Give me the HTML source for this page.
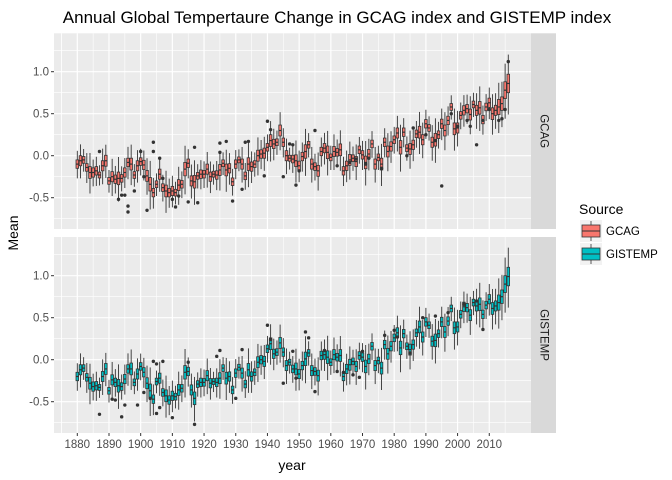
<!DOCTYPE html>
<html><head><meta charset="utf-8"><style>
body{margin:0;background:#fff}
svg{display:block;font-family:"Liberation Sans",sans-serif}
</style></head><body>
<svg id="c" width="672" height="480" viewBox="0 0 672 480"></svg>
<script>
const years=[];for(let y=1880;y<=2016;y++)years.push(y);
const gcagMed=[-0.10,-0.06,-0.05,-0.14,-0.20,-0.20,-0.18,-0.23,-0.12,-0.06,
-0.30,-0.25,-0.28,-0.27,-0.27,-0.20,-0.08,-0.10,-0.23,-0.12,
-0.07,-0.11,-0.24,-0.34,-0.44,-0.34,-0.22,-0.38,-0.42,-0.44,
-0.42,-0.44,-0.35,-0.34,-0.16,-0.09,-0.30,-0.31,-0.24,-0.22,
-0.22,-0.16,-0.25,-0.22,-0.23,-0.17,-0.09,-0.17,-0.15,-0.31,
-0.10,-0.05,-0.10,-0.24,-0.10,-0.13,-0.10,0.00,0.02,0.03,
0.10,0.18,0.14,0.16,0.30,0.16,0.00,-0.03,-0.04,-0.06,
-0.12,-0.01,0.05,0.13,-0.10,-0.13,-0.18,0.05,0.09,0.04,
-0.02,0.05,0.04,0.07,-0.18,-0.12,-0.05,-0.03,-0.07,0.07,
0.01,-0.08,0.02,0.14,-0.10,-0.02,-0.10,0.16,0.05,0.11,
0.19,0.27,0.10,0.28,0.09,0.08,0.13,0.26,0.28,0.19,
0.38,0.33,0.16,0.19,0.25,0.38,0.30,0.42,0.58,0.32,
0.33,0.48,0.54,0.56,0.49,0.61,0.54,0.57,0.43,0.58,
0.63,0.50,0.54,0.58,0.62,0.78,0.86];
const gistMed=[-0.20,-0.12,-0.10,-0.21,-0.28,-0.32,-0.31,-0.33,-0.20,-0.11,
-0.37,-0.24,-0.27,-0.31,-0.32,-0.23,-0.11,-0.11,-0.27,-0.17,
-0.08,-0.15,-0.28,-0.37,-0.47,-0.26,-0.22,-0.39,-0.43,-0.48,
-0.43,-0.44,-0.36,-0.34,-0.15,-0.14,-0.36,-0.46,-0.29,-0.27,
-0.27,-0.19,-0.28,-0.26,-0.27,-0.22,-0.10,-0.22,-0.20,-0.36,
-0.16,-0.09,-0.16,-0.29,-0.12,-0.20,-0.15,-0.03,0.00,-0.02,
0.13,0.19,0.07,0.09,0.20,0.09,-0.07,-0.03,-0.11,-0.11,
-0.17,-0.07,0.01,0.08,-0.13,-0.14,-0.19,0.05,0.06,0.03,
-0.03,0.06,0.03,0.05,-0.20,-0.11,-0.06,-0.02,-0.08,0.05,
0.03,-0.08,0.01,0.16,-0.07,-0.01,-0.10,0.18,0.07,0.16,
0.26,0.32,0.14,0.31,0.16,0.12,0.18,0.32,0.39,0.27,
0.45,0.41,0.22,0.23,0.31,0.45,0.33,0.46,0.61,0.38,
0.39,0.54,0.63,0.62,0.53,0.68,0.64,0.66,0.54,0.65,
0.72,0.61,0.64,0.68,0.75,0.90,0.99];
const boxIqr=[10,12,8,9,14,11,10,7,12,13,8,12,10,15,9,11,10,14,8,12,9,11,13,16,10,8,12,9,14,10,11,8,13,9,16,10,12,15,8,10,9,12,11,7,10,13,8,14,11,9,10,7,12,9,15,11,8,13,10,12,9,14,11,8,13,10,12,7,9,14,11,10,16,8,12,9,13,10,11,15,8,12,9,14,10,11,13,8,12,9,10,15,11,9,12,8,14,10,13,11,9,12,16,10,8,13,11,9,14,12,10,8,12,15,9,11,13,10,8,14,12,9,11,10,13,8,12,15,10,9,11,14,12,18,16,20,22];
const whiskRng=[12,15,10,14,18,11,13,9,16,14,10,17,12,20,11,13,15,18,10,14,12,13,16,22,14,10,15,12,19,13,14,10,17,12,22,13,15,20,11,13,12,16,14,9,13,18,10,19,14,12,13,10,16,12,20,14,11,17,13,15,12,18,14,11,17,13,16,10,12,19,14,13,21,11,16,12,17,13,14,20,11,16,12,18,13,14,17,11,16,12,13,20,14,12,16,11,19,13,17,14,12,16,21,13,11,17,14,12,19,16,13,11,16,20,12,14,17,13,11,19,16,12,14,13,17,11,16,20,13,12,14,18,16,22,20,24,26];
const gcagOut=[[1887,0.05],[1893,-0.52],[1894,-0.47],[1895,-0.47],[1896,-0.6],[1896,-0.67],[1898,-0.42],[1900,0.05],[1901,-0.25],[1902,-0.65],[1904,0.16],[1904,0.05],[1906,-0.03],[1907,-0.27],[1910,-0.52],[1911,-0.61],[1912,-0.48],[1915,-0.55],[1917,0.1],[1918,-0.56],[1925,0.04],[1925,0.15],[1927,0.17],[1929,-0.54],[1932,-0.4],[1933,0.16],[1934,0.17],[1939,-0.24],[1940,0.41],[1941,0.31],[1945,-0.25],[1947,0.14],[1948,0.13],[1949,-0.35],[1950,-0.18],[1955,0.3],[1962,-0.12],[1966,-0.08],[1968,-0.04],[1971,-0.1],[1972,-0.03],[1976,-0.15],[1984,0.0],[1986,0.33],[1990,0.25],[1993,0.18],[1995,-0.36],[1998,0.5],[2000,0.35],[2003,0.42],[2004,0.35],[2006,0.13],[2008,0.42],[2010,0.55],[2013,0.42],[2014,0.44],[2015,0.55],[2016,1.12]];
const gistOut=[[1887,-0.65],[1891,-0.47],[1892,-0.48],[1894,-0.68],[1895,-0.54],[1899,-0.54],[1901,-0.39],[1903,-0.46],[1904,-0.02],[1905,-0.05],[1905,-0.64],[1906,-0.57],[1907,-0.02],[1910,-0.69],[1915,-0.03],[1917,-0.77],[1924,0.04],[1925,0.11],[1930,-0.46],[1932,0.12],[1940,0.41],[1941,0.24],[1945,-0.28],[1948,0.1],[1949,-0.22],[1952,0.33],[1953,0.26],[1955,-0.38],[1958,0.11],[1962,-0.14],[1964,-0.15],[1967,-0.18],[1969,-0.21],[1970,0.1],[1977,0.29],[1980,0.35],[1981,0.27],[1985,0.08],[1989,0.5],[1993,0.52],[1997,0.56],[2002,0.66],[2006,0.7],[2008,0.36]];
const yTicks=[-0.5,0,0.5,1];
const yTickLabels=["-0.5","0.0","0.5","1.0"];
const xTicks=[1880,1890,1900,1910,1920,1930,1940,1950,1960,1970,1980,1990,2000,2010];

const NS="http://www.w3.org/2000/svg";
const svg=document.getElementById('c');
function mk(t,a,p){const e=document.createElementNS(NS,t);for(const k in a)e.setAttribute(k,a[k]);(p||svg).appendChild(e);return e;}
const PL=54,PR=531;
const xs=y=>77.3+(y-1880)*3.169;
const panels=[{top:33.3,bot:229,zero:155.7,med:gistMed,name:'GCAG',fill:'#F8766D',out:gcagOut},
              {top:237,bot:433,zero:359.7,med:gistMed,name:'GISTEMP',fill:'#00BFC4',out:gistOut}];
panels[0].med=gcagMed;

let t=mk('text',{x:337,y:23,'text-anchor':'middle','font-size':17,fill:'#000'});
t.textContent='Annual Global Tempertaure Change in GCAG index and GISTEMP index';



panels.forEach((p,pi)=>{
  const ys=v=>p.zero-84*v;
  const g=mk('g',{});
  
  
  mk('rect',{x:PL,y:p.top,width:PR-PL,height:p.bot-p.top,fill:'#EBEBEB'},g);
  // minor grid
  [-0.75,-0.25,0.25,0.75,1.25].forEach(v=>mk('line',{x1:PL,x2:PR,y1:ys(v),y2:ys(v),stroke:'#fff','stroke-width':0.6},g));
  xTicks.concat([1870,2020]).forEach(v=>{const x=xs(v+5);if(x>PL&&x<PR)mk('line',{x1:x,x2:x,y1:p.top,y2:p.bot,stroke:'#fff','stroke-width':0.6},g);});
  xTicks.concat([1870]).forEach(v=>{const x=xs(v-5);if(x>PL&&x<PR&&v==1880)mk('line',{x1:x,x2:x,y1:p.top,y2:p.bot,stroke:'#fff','stroke-width':0.6},g);});
  yTicks.forEach((v,i)=>{
    mk('line',{x1:PL,x2:PR,y1:ys(v),y2:ys(v),stroke:'#fff','stroke-width':1.2},g);
    mk('line',{x1:PL-3,x2:PL,y1:ys(v),y2:ys(v),stroke:'#333','stroke-width':1},g);
    const l=mk('text',{x:PL-5,y:ys(v)+4,'text-anchor':'end','font-size':11.5,fill:'#4D4D4D'},g);
    l.textContent=yTickLabels[i];
    
    
  });
  xTicks.forEach(v=>mk('line',{x1:xs(v),x2:xs(v),y1:p.top,y2:p.bot,stroke:'#fff','stroke-width':1.2},g));
  // boxes
  years.forEach((yr,i)=>{
    const m=p.med[i],h=boxIqr[i]/100,r=whiskRng[i]/100;
    const q1=m-h*0.5,q3=m+h*0.5,lo=q1-r,hi=q3+r*0.9;
    const x=xs(yr),w=2.6;
    const b=mk('g',{},g);
    
    
    mk('line',{x1:x,x2:x,y1:ys(hi),y2:ys(lo),stroke:'#333','stroke-width':0.9},b);
    mk('rect',{x:x-w/2,y:ys(q3),width:w,height:ys(q1)-ys(q3),fill:p.fill,stroke:'#333','stroke-width':0.8},b);
    mk('line',{x1:x-w/2,x2:x+w/2,y1:ys(m),y2:ys(m),stroke:'#333','stroke-width':1.2},b);
  });
  p.out.forEach(o=>{
    const c=mk('circle',{cx:xs(o[0]),cy:ys(o[1]),r:1.7,fill:'#333'},g);
    
    
  });
  // strip
  mk('rect',{x:PR,y:p.top,width:25,height:p.bot-p.top,fill:'#D9D9D9'},g);
  const cy=(p.top+p.bot)/2;
  const s=mk('text',{x:PR+12.5,y:cy,'text-anchor':'middle','font-size':11.5,fill:'#1A1A1A',transform:`rotate(90 ${PR+12.5} ${cy})`,'dominant-baseline':'central'},g);
  s.textContent=p.name;
  
  
});
// x axis
xTicks.forEach(v=>{
  mk('line',{x1:xs(v),x2:xs(v),y1:433,y2:436,stroke:'#333','stroke-width':1});
  const l=mk('text',{x:xs(v),y:448,'text-anchor':'middle','font-size':11.5,fill:'#4D4D4D'});
  l.textContent=v;
  
  
});
t=mk('text',{x:292,y:470,'text-anchor':'middle','font-size':14,fill:'#000'});t.textContent='year';


t=mk('text',{x:18,y:233,'text-anchor':'middle','font-size':14,fill:'#000',transform:'rotate(-90 18 233)'});t.textContent='Mean';


// legend
t=mk('text',{x:579,y:214,'font-size':14,fill:'#000'});t.textContent='Source';


[['GCAG','#F8766D',220],['GISTEMP','#00BFC4',243]].forEach(d=>{
  const g=mk('g',{});
  
  
  mk('rect',{x:580,y:d[2],width:22,height:22,fill:'#F2F2F2'},g);
  mk('line',{x1:591,x2:591,y1:d[2]+1,y2:d[2]+21,stroke:'#333','stroke-width':0.8},g);
  mk('rect',{x:582,y:d[2]+5,width:18,height:12,fill:d[1],stroke:'#333','stroke-width':0.8},g);
  mk('line',{x1:582,x2:600,y1:d[2]+11,y2:d[2]+11,stroke:'#333','stroke-width':1},g);
  const l=mk('text',{x:606,y:d[2]+15,'font-size':11.5,fill:'#000'},g);l.textContent=d[0];
});
</script>
</body></html>
